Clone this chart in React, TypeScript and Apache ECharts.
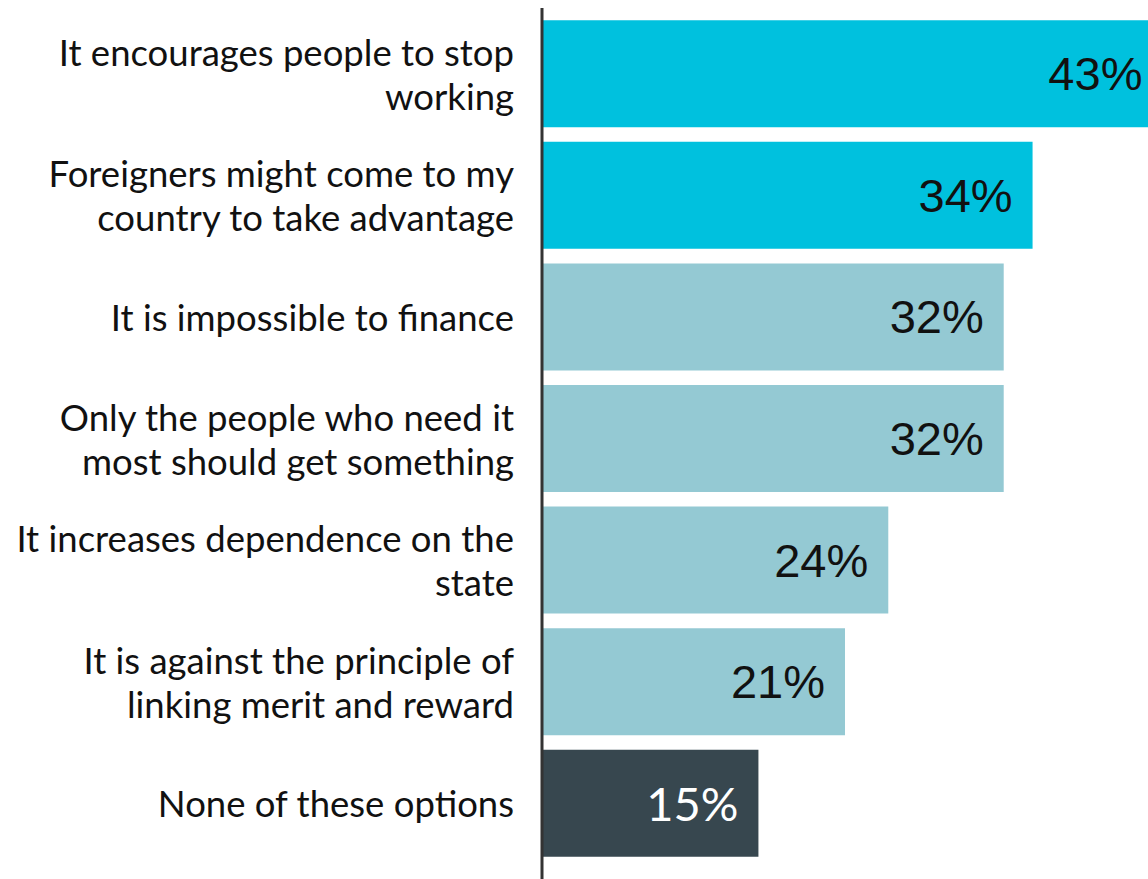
import React, { useEffect, useRef } from "react";
import * as echarts from "echarts";

const categories = [
  "It encourages people to stop\nworking",
  "Foreigners might come to my\ncountry to take advantage",
  "It is impossible to finance",
  "Only the people who need it\nmost should get something",
  "It increases dependence on the\nstate",
  "It is against the principle of\nlinking merit and reward",
  "None of these options",
];
const values = [43, 34, 32, 32, 24, 21, 15];
const barColors = ["#00C1DE", "#00C1DE", "#94C9D3", "#94C9D3", "#94C9D3", "#94C9D3", "#37474F"];
const labelColors = ["#111", "#111", "#111", "#111", "#111", "#111", "#fff"];
const labelFonts = ["Liberation Sans", "Liberation Sans", "Liberation Sans", "Liberation Sans", "Liberation Sans", "Liberation Sans", "Lato"];

export default function App() {
  const ref = useRef<HTMLDivElement>(null);
  useEffect(() => {
    if (!ref.current) return;
    const chart = echarts.init(ref.current, undefined, { renderer: "svg" });
    chart.setOption({
      animation: false,
      grid: { left: 542, right: 0, top: 13, bottom: 15, containLabel: false },
      xAxis: {
        type: "value",
        min: 0,
        max: 42,
        show: false,
      },
      yAxis: {
        type: "category",
        inverse: true,
        data: categories,
        axisLine: { show: false },
        axisTick: { show: false },
        axisLabel: {
          margin: 28,
          fontFamily: "Lato",
          fontSize: 36.5,
          lineHeight: 44,
          color: "#111",
          align: "right",
        },
      },
      graphic: [
        {
          type: "line",
          shape: { x1: 542, y1: 8, x2: 542, y2: 879 },
          style: { stroke: "#333", lineWidth: 3 },
          z: 100,
        },
      ],
      series: [
        {
          type: "bar",
          barWidth: 107,
          clip: false,
          data: values.map((v, i) => ({
            value: v,
            itemStyle: { color: barColors[i] },
            label: { color: labelColors[i], fontFamily: labelFonts[i] },
          })),
          label: {
            show: true,
            position: "insideRight",
            distance: 20,
            fontSize: 47,
            formatter: "{c}%",
          },
        },
      ],
    });
    return () => chart.dispose();
  }, []);
  return (
    <div
      ref={ref}
      style={{ position: "fixed", left: 0, top: 0, width: 1148, height: 879, background: "#fff" }}
    />
  );
}
